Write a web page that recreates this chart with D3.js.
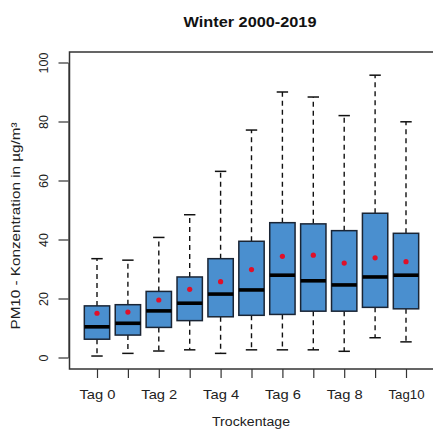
<!DOCTYPE html>
<html>
<head>
<meta charset="utf-8">
<script src="https://cdn.jsdelivr.net/npm/d3@7"></script>
<style>
  html, body { margin: 0; padding: 0; background: #fff; }
  svg { display: block; font-family: "Liberation Sans", Arial, sans-serif; }
</style>
</head>
<body>
<svg id="chart" width="433" height="430"></svg>
<script>
const categories = ["Tag 0","Tag 1","Tag 2","Tag 3","Tag 4","Tag 5","Tag 6","Tag 7","Tag 8","Tag 9","Tag10"];
const shownLabels = ["Tag 0","Tag 2","Tag 4","Tag 6","Tag 8","Tag10"];
const whiskerLow  = [0.5, 1.4, 2.2, 2.6, 1.4, 2.6, 2.6, 2.6, 2.1, 6.7, 5.3];
const q1          = [6.2, 7.6, 10.2, 12.5, 13.8, 14.3, 14.6, 15.7, 15.7, 17.0, 16.5];
const medians     = [10.4, 11.6, 15.8, 18.4, 21.5, 22.9, 27.9, 26.0, 24.6, 27.3, 27.9];
const q3          = [17.5, 17.9, 22.4, 27.3, 33.5, 39.4, 45.7, 45.3, 43.0, 48.9, 42.1];
const whiskerHigh = [33.5, 33.0, 40.7, 48.4, 63.1, 77.1, 90.0, 88.3, 82.0, 95.7, 79.9];
const means       = [15.0, 15.4, 19.5, 23.1, 25.7, 29.8, 34.3, 34.7, 32.0, 33.8, 32.5];
const yTicks = [0, 20, 40, 60, 80, 100];

const svg = d3.select("#chart");
const frame = {left: 69.5, top: 52, right: 440, bottom: 369};

const y = d3.scaleLinear().domain([0, 100]).range([357.5, 62.5]);
const x = d3.scaleLinear().domain([0, categories.length - 1]).range([97, 406]);
const step = x(1) - x(0);
const boxW = step * 0.82;
const capW = boxW * 0.45;

// title
svg.append("text").attr("x", 250).attr("y", 27).attr("text-anchor", "middle")
  .attr("font-size", 15).attr("font-weight", "bold").attr("fill", "#111")
  .attr("textLength", 133).attr("lengthAdjust", "spacingAndGlyphs")
  .text("Winter 2000-2019");

// frame
svg.append("rect").attr("x", frame.left).attr("y", frame.top)
  .attr("width", frame.right - frame.left).attr("height", frame.bottom - frame.top)
  .attr("fill", "none").attr("stroke", "#333").attr("stroke-width", 1.5);

// y axis
const yAxis = d3.axisLeft(y).tickValues(yTicks).tickSize(10).tickSizeOuter(0).tickPadding(6);
const yg = svg.append("g").attr("transform", `translate(${frame.left - 1},0)`).call(yAxis);
yg.select(".domain").attr("stroke", "#333").attr("stroke-width", 1.2);
yg.selectAll(".tick line").attr("stroke", "#333").attr("stroke-width", 1.2);
yg.selectAll(".tick text")
  .attr("font-size", 12.5).attr("fill", "#222")
  .attr("font-family", "Liberation Sans, Arial, sans-serif")
  .attr("text-anchor", "middle").attr("dy", null).attr("x", null)
  .attr("transform", `translate(-24,0) rotate(-90)`)
  .attr("dominant-baseline", "middle");

// x axis
const xAxis = d3.axisBottom(x).tickValues(d3.range(categories.length)).tickSize(9).tickSizeOuter(0)
  .tickPadding(12).tickFormat(i => shownLabels.includes(categories[i]) ? categories[i] : "");
const xg = svg.append("g").attr("transform", `translate(0,${frame.bottom})`).call(xAxis);
xg.select(".domain").remove();
xg.selectAll(".tick line").attr("stroke", "#333").attr("stroke-width", 1.2);
xg.selectAll(".tick text").attr("font-size", 13).attr("fill", "#222")
  .attr("font-family", "Liberation Sans, Arial, sans-serif")
  .each(function(d) { if (this.textContent) d3.select(this).attr("textLength", 36).attr("lengthAdjust", "spacingAndGlyphs"); });

// axis titles
svg.append("text").attr("x", 251).attr("y", 425.5).attr("text-anchor", "middle")
  .attr("font-size", 12.5).attr("fill", "#222")
  .attr("textLength", 78).attr("lengthAdjust", "spacingAndGlyphs").text("Trockentage");
svg.append("text").attr("transform", `translate(20,226) rotate(-90)`).attr("text-anchor", "middle")
  .attr("font-size", 12.5).attr("fill", "#222")
  .attr("textLength", 207).attr("lengthAdjust", "spacingAndGlyphs")
  .text("PM10 - Konzentration in  µg/m³");

// boxes
const g = svg.append("g");
categories.forEach((c, i) => {
  const cx = x(i);
  g.append("line").attr("x1", cx).attr("x2", cx).attr("y1", y(q3[i])).attr("y2", y(whiskerHigh[i]))
    .attr("stroke", "#111").attr("stroke-width", 1.4).attr("stroke-dasharray", "5,4");
  g.append("line").attr("x1", cx).attr("x2", cx).attr("y1", y(q1[i])).attr("y2", y(whiskerLow[i]))
    .attr("stroke", "#111").attr("stroke-width", 1.4).attr("stroke-dasharray", "5,4");
  [whiskerHigh[i], whiskerLow[i]].forEach(v => {
    g.append("line").attr("x1", cx - capW / 2).attr("x2", cx + capW / 2).attr("y1", y(v)).attr("y2", y(v))
      .attr("stroke", "#111").attr("stroke-width", 1.5);
  });
  g.append("rect").attr("x", cx - boxW / 2).attr("y", y(q3[i]))
    .attr("width", boxW).attr("height", y(q1[i]) - y(q3[i]))
    .attr("fill", "#4a8fcf").attr("stroke", "#1a2535").attr("stroke-width", 1.5);
  g.append("line").attr("x1", cx - boxW / 2).attr("x2", cx + boxW / 2)
    .attr("y1", y(medians[i])).attr("y2", y(medians[i]))
    .attr("stroke", "#000").attr("stroke-width", 3.6);
  g.append("circle").attr("cx", cx).attr("cy", y(means[i])).attr("r", 2.6).attr("fill", "#e0102a");
});
</script>
</body>
</html>
